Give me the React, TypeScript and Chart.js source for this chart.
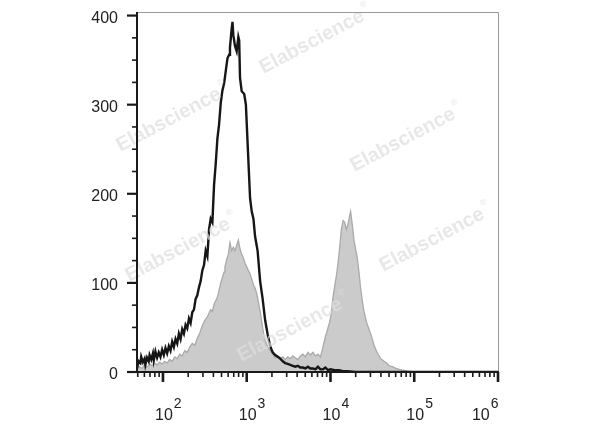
import { useEffect, useRef } from 'react';
import { Chart, registerables } from 'chart.js';

Chart.register(...registerables);

// ---- data (x in log10 units of fluorescence intensity, y = count) ----
const blackX = [
  1.69, 1.70, 1.71, 1.73, 1.74, 1.76, 1.78, 1.79, 1.81, 1.83, 1.84, 1.86, 1.88, 1.89, 1.91, 1.93, 1.95, 1.97, 1.99,
  2.01, 2.03, 2.05, 2.07, 2.09, 2.11, 2.13, 2.15, 2.17, 2.19, 2.21, 2.23, 2.25, 2.27, 2.29, 2.31, 2.33, 2.35, 2.37, 2.39,
  2.41, 2.43, 2.45, 2.47, 2.49, 2.51, 2.53, 2.55, 2.57, 2.59, 2.61, 2.63, 2.65, 2.67, 2.69, 2.71, 2.73, 2.75, 2.77, 2.79,
  2.80, 2.82, 2.83, 2.84, 2.86, 2.88, 2.90, 2.91, 2.92, 2.94, 2.97, 2.99, 3.01, 3.04, 3.06, 3.08, 3.10, 3.13, 3.16, 3.19,
  3.22, 3.25, 3.28, 3.31, 3.34, 3.37, 3.40, 3.43, 3.46, 3.49, 3.52, 3.55, 3.58, 3.61, 3.64, 3.67, 3.70, 3.73, 3.76, 3.79,
  3.82, 3.85, 3.88, 3.91, 3.94, 3.97, 4.00, 4.05, 4.10, 4.15, 4.20, 4.30, 6.00,
];
const blackY = [
  14, 8, 12, 10, 17, 11, 15, 8, 16, 12, 19, 14, 21, 13, 23, 16, 22, 17, 25,
  19, 27, 21, 29, 24, 34, 28, 37, 32, 43, 37, 48, 43, 53, 49, 60, 55, 67, 70, 82,
  86, 95, 102, 114, 120, 136, 130, 160, 172, 168, 210, 234, 262, 278, 302, 316, 324, 338, 352, 356,
  364, 385, 393, 378, 366, 360, 376, 372, 330, 315, 312, 300, 258, 195, 180, 172, 152, 136, 102, 82,
  58, 42, 29, 22, 19, 17, 15, 12, 10, 9, 8, 7, 6, 7, 5, 5, 4, 6, 4, 4,
  3, 6, 3, 3, 5, 2, 3, 2, 2, 1, 1, 0, 0,
];

const grayX = [
  1.69, 1.72, 1.75, 1.78, 1.81, 1.84, 1.87, 1.90, 1.93, 1.96, 1.99, 2.02, 2.05, 2.08, 2.11, 2.14, 2.17, 2.20, 2.23,
  2.26, 2.29, 2.32, 2.35, 2.38, 2.41, 2.44, 2.47, 2.50, 2.53, 2.55, 2.57, 2.59, 2.61, 2.63, 2.65, 2.67, 2.69, 2.71,
  2.73, 2.74, 2.76, 2.78, 2.80, 2.82, 2.84, 2.86, 2.88, 2.90, 2.92, 2.94, 2.96, 2.98, 3.00, 3.02, 3.04, 3.06, 3.08,
  3.10, 3.12, 3.14, 3.16, 3.18, 3.20, 3.22, 3.25, 3.28, 3.31, 3.34, 3.37, 3.40, 3.43, 3.46, 3.49, 3.52, 3.55, 3.58,
  3.61, 3.64, 3.67, 3.70, 3.73, 3.76, 3.79, 3.82, 3.85, 3.88, 3.90, 3.92, 3.94, 3.96, 3.99, 4.01, 4.03, 4.05, 4.07,
  4.09, 4.11, 4.13, 4.15, 4.17, 4.19, 4.21, 4.23, 4.24, 4.26, 4.28, 4.30, 4.32, 4.34, 4.36, 4.38, 4.40, 4.43, 4.46,
  4.49, 4.52, 4.56, 4.60, 4.64, 4.67, 4.70, 4.74, 4.78, 4.82, 4.86, 4.92, 5.00, 6.00,
];
const grayY = [
  3, 6, 4, 8, 5, 9, 7, 10, 8, 11, 9, 12, 10, 14, 12, 17, 15, 20, 18,
  24, 22, 28, 32, 30, 38, 44, 52, 58, 62, 66, 70, 68, 76, 80, 84, 92, 100, 106,
  112, 118, 126, 132, 145, 136, 140, 136, 142, 148, 138, 132, 128, 122, 118, 114, 110, 104, 98,
  94, 88, 78, 68, 56, 44, 36, 28, 24, 20, 16, 18, 15, 17, 14, 17, 15, 18, 16,
  14, 18, 20, 17, 22, 19, 22, 18, 20, 17, 24, 32, 40, 46, 56, 66, 84, 96, 108,
  122, 140, 160, 170, 168, 160, 166, 176, 180, 166, 148, 138, 128, 112, 94, 80, 68, 56, 48,
  40, 30, 21, 15, 12, 10, 7, 6, 4, 3, 2, 1, 0, 0,
];

const yTickValues = [0, 100, 200, 300, 400];
const yMinorStep = 25;
const xDecades = [2, 3, 4, 5, 6];
const xLabelBase = '10';
const xMin = 1.69;
const xMax = 6;
const yMin = 0;
const yMax = 404;
const watermarkText = 'Elabscience';

const FONT = '"Liberation Sans", Arial, sans-serif';

const watermarkPlugin = {
  id: 'watermark',
  afterDatasetsDraw(chart: any) {
    const ctx = chart.ctx;
    const spots = [
      [169, 120], [312, 42], [403, 140], [178, 250], [432, 240], [290, 330],
    ];
    ctx.save();
    for (const [cx, cy] of spots) {
      ctx.save();
      ctx.translate(cx, cy);
      ctx.rotate((-28 * Math.PI) / 180);
      ctx.font = `bold 20px ${FONT}`;
      ctx.fillStyle = 'rgba(222,222,222,0.7)';
      ctx.textAlign = 'center';
      ctx.textBaseline = 'middle';
      ctx.fillText(watermarkText, 0, 0);
      const w = ctx.measureText(watermarkText).width;
      ctx.font = `9px ${FONT}`;
      ctx.textAlign = 'left';
      ctx.fillText('®', w / 2 + 2, -9);
      ctx.restore();
    }
    ctx.restore();
  },
};

const axesPlugin = {
  id: 'fcsAxes',
  afterDraw(chart: any) {
    const ctx = chart.ctx;
    const a = chart.chartArea;
    const xs = chart.scales.x;
    const ys = chart.scales.y;
    ctx.save();
    // frame top/right (thin gray)
    ctx.strokeStyle = '#9a9a9a';
    ctx.lineWidth = 1;
    ctx.beginPath();
    ctx.moveTo(a.left, a.top + 0.5);
    ctx.lineTo(a.right + 0.5, a.top + 0.5);
    ctx.lineTo(a.right + 0.5, a.bottom);
    ctx.stroke();

    // left and bottom axes
    ctx.strokeStyle = '#1a1a1a';
    ctx.lineWidth = 2;
    ctx.beginPath();
    ctx.moveTo(a.left, a.top);
    ctx.lineTo(a.left, a.bottom + 1);
    ctx.moveTo(a.left - 1, a.bottom);
    ctx.lineTo(a.right + 1, a.bottom);
    ctx.stroke();

    // y ticks
    for (let v = yMin; v <= 400; v += yMinorStep) {
      const y = ys.getPixelForValue(v);
      const major = v % 100 === 0;
      ctx.lineWidth = major ? 2.2 : 1.6;
      ctx.beginPath();
      ctx.moveTo(a.left, y);
      ctx.lineTo(a.left - (major ? 10 : 5), y);
      ctx.stroke();
    }
    // y labels
    ctx.fillStyle = '#222';
    ctx.font = `16px ${FONT}`;
    ctx.textAlign = 'right';
    ctx.textBaseline = 'middle';
    for (const v of yTickValues) {
      const y = ys.getPixelForValue(v);
      ctx.fillText(String(v), a.left - 19, y + 3);
    }

    // x ticks
    for (let d = 1; d <= 6; d++) {
      for (let m = 1; m <= 9; m++) {
        const v = Math.log10(m * Math.pow(10, d));
        if (v < xMin - 1e-9 || v > xMax + 1e-9) continue;
        if (d === 6 && m > 1) continue;
        const x = xs.getPixelForValue(v);
        const major = m === 1;
        ctx.lineWidth = major ? 2.6 : 1.6;
        ctx.beginPath();
        ctx.moveTo(x, a.bottom);
        ctx.lineTo(x, a.bottom + (major ? 10 : 5));
        ctx.stroke();
      }
    }
    // x labels 10^k
    for (const k of xDecades) {
      const x = xs.getPixelForValue(k);
      ctx.font = `16px ${FONT}`;
      const bw = ctx.measureText(xLabelBase).width;
      ctx.font = `14px ${FONT}`;
      const ew = ctx.measureText(String(k)).width;
      let left = x - bw / 2 + 1;
      if (left + bw + 1 + ew > a.right + 0.5) left = a.right + 0.5 - (bw + 1 + ew);
      ctx.textAlign = 'left';
      ctx.textBaseline = 'alphabetic';
      ctx.font = `16px ${FONT}`;
      ctx.fillText(xLabelBase, left, 420);
      ctx.font = `14px ${FONT}`;
      ctx.fillText(String(k), left + bw + 1, 408);
    }
    ctx.restore();
  },
};

export default function App() {
  const ref = useRef<HTMLCanvasElement | null>(null);
  useEffect(() => {
    document.body.style.margin = '0';
    const canvas = ref.current;
    if (!canvas) return;
    const chart = new Chart(canvas, {
      type: 'line',
      data: {
        datasets: [
          {
            label: 'control',
            data: blackX.map((x, i) => ({ x, y: blackY[i] })),
            borderColor: '#161616',
            borderWidth: 2.4,
            pointRadius: 0,
            tension: 0,
            fill: false,
            order: 0,
          },
          {
            label: 'stained',
            data: grayX.map((x, i) => ({ x, y: grayY[i] })),
            borderColor: '#aaaaaa',
            backgroundColor: '#cbcbcb',
            borderWidth: 1.3,
            pointRadius: 0,
            tension: 0,
            fill: 'origin',
            order: 1,
          },
        ],
      },
      options: {
        animation: false,
        responsive: false,
        maintainAspectRatio: false,
        layout: { padding: { left: 137, right: 102, top: 12, bottom: 55 } },
        plugins: { legend: { display: false }, tooltip: { enabled: false } },
        scales: {
          x: { type: 'linear', min: xMin, max: xMax, display: false },
          y: { type: 'linear', min: yMin, max: yMax, display: false },
        },
      },
      plugins: [watermarkPlugin, axesPlugin],
    });
    return () => chart.destroy();
  }, []);
  return (
    <div style={{ position: 'absolute', left: 0, top: 0, width: 600, height: 427, background: '#fff' }}>
      <canvas ref={ref} width={600} height={427} style={{ display: 'block' }} />
    </div>
  );
}
